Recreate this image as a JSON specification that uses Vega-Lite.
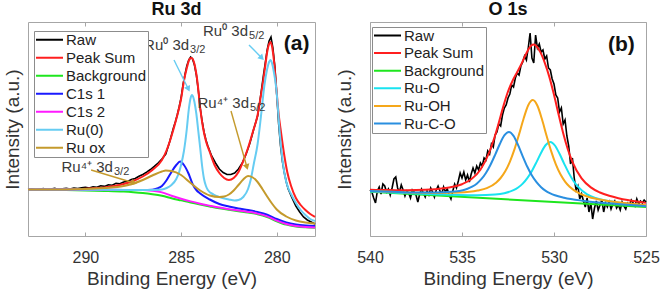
{
  "$schema": "https://vega.github.io/schema/vega-lite/v6.json",
  "background": "white",
  "padding": {"left": 2, "top": 0, "right": 2, "bottom": 0},
  "config": {
    "font": "Liberation Sans",
    "view": {"stroke": "#a6a6a6", "strokeWidth": 1},
    "axis": {"grid": false, "domain": false, "labelFontSize": 16, "labelColor": "#333333", "labelFlush": false, "titleFontSize": 19, "titleFontWeight": "normal", "titleColor": "#333333", "tickColor": "#a6a6a6"},
    "title": {"fontSize": 18, "fontWeight": "bold", "color": "#111111", "offset": 3, "anchor": "middle"},
    "legend": {"title": null, "orient": "none", "symbolType": "stroke", "symbolSize": 729, "symbolStrokeWidth": 2, "labelFontSize": 15, "labelColor": "#222222", "fillColor": "white", "strokeColor": "#8c8c8c", "padding": 1, "labelOffset": 2}
  },
  "datasets": {
    "ru": [
      {"s":"Raw","E":293,"I":46.5},{"s":"Raw","E":292.8,"I":47.3},{"s":"Raw","E":292.6,"I":46.2},{"s":"Raw","E":292.4,"I":46.8},{"s":"Raw","E":292.2,"I":47.4},{"s":"Raw","E":292,"I":46.4},{"s":"Raw","E":291.8,"I":46.9},{"s":"Raw","E":291.6,"I":47.6},{"s":"Raw","E":291.4,"I":46.5},{"s":"Raw","E":291.2,"I":47.1},{"s":"Raw","E":291,"I":47.6},{"s":"Raw","E":290.8,"I":46.9},{"s":"Raw","E":290.6,"I":48},{"s":"Raw","E":290.4,"I":47.4},{"s":"Raw","E":290.2,"I":48.2},{"s":"Raw","E":290,"I":48.6},{"s":"Raw","E":289.8,"I":48},{"s":"Raw","E":289.6,"I":49.2},{"s":"Raw","E":289.4,"I":48.7},{"s":"Raw","E":289.2,"I":50.2},{"s":"Raw","E":289,"I":49.6},{"s":"Raw","E":288.8,"I":51.2},{"s":"Raw","E":288.6,"I":50.8},{"s":"Raw","E":288.4,"I":52.6},{"s":"Raw","E":288.2,"I":52.2},{"s":"Raw","E":288,"I":54},{"s":"Raw","E":287.8,"I":54.6},{"s":"Raw","E":287.6,"I":56.4},{"s":"Raw","E":287.4,"I":57.6},{"s":"Raw","E":287.2,"I":59.8},{"s":"Raw","E":287,"I":61.5},{"s":"Raw","E":286.8,"I":63.8},{"s":"Raw","E":286.6,"I":66.5},{"s":"Raw","E":286.4,"I":69.6},{"s":"Raw","E":286.2,"I":73},{"s":"Raw","E":286,"I":77},{"s":"Raw","E":285.8,"I":82},{"s":"Raw","E":285.6,"I":94},{"s":"Raw","E":285.5,"I":101},{"s":"Raw","E":285.4,"I":108},{"s":"Raw","E":285.3,"I":114},{"s":"Raw","E":285.2,"I":121},{"s":"Raw","E":285.1,"I":129},{"s":"Raw","E":285,"I":138},{"s":"Raw","E":284.9,"I":151},{"s":"Raw","E":284.8,"I":161},{"s":"Raw","E":284.7,"I":170},{"s":"Raw","E":284.6,"I":176},{"s":"Raw","E":284.5,"I":179},{"s":"Raw","E":284.4,"I":177},{"s":"Raw","E":284.3,"I":171},{"s":"Raw","E":284.2,"I":161},{"s":"Raw","E":284.1,"I":146},{"s":"Raw","E":284,"I":128},{"s":"Raw","E":283.9,"I":115},{"s":"Raw","E":283.8,"I":104},{"s":"Raw","E":283.7,"I":96},{"s":"Raw","E":283.6,"I":90},{"s":"Raw","E":283.5,"I":85},{"s":"Raw","E":283.4,"I":80},{"s":"Raw","E":283.2,"I":73},{"s":"Raw","E":283,"I":67},{"s":"Raw","E":282.8,"I":63.5},{"s":"Raw","E":282.6,"I":61.5},{"s":"Raw","E":282.4,"I":61.5},{"s":"Raw","E":282.2,"I":63},{"s":"Raw","E":282,"I":67},{"s":"Raw","E":281.8,"I":73},{"s":"Raw","E":281.6,"I":82},{"s":"Raw","E":281.4,"I":93},{"s":"Raw","E":281.2,"I":107},{"s":"Raw","E":281,"I":120},{"s":"Raw","E":280.9,"I":132},{"s":"Raw","E":280.8,"I":146},{"s":"Raw","E":280.7,"I":160},{"s":"Raw","E":280.6,"I":173},{"s":"Raw","E":280.5,"I":186},{"s":"Raw","E":280.4,"I":195},{"s":"Raw","E":280.3,"I":199},{"s":"Raw","E":280.2,"I":188},{"s":"Raw","E":280.1,"I":170},{"s":"Raw","E":280,"I":142},{"s":"Raw","E":279.9,"I":112},{"s":"Raw","E":279.8,"I":90},{"s":"Raw","E":279.7,"I":74},{"s":"Raw","E":279.6,"I":63},{"s":"Raw","E":279.5,"I":54},{"s":"Raw","E":279.4,"I":47},{"s":"Raw","E":279.2,"I":38},{"s":"Raw","E":279,"I":30},{"s":"Raw","E":278.8,"I":24},{"s":"Raw","E":278.6,"I":19},{"s":"Raw","E":278.4,"I":16},{"s":"Raw","E":278.2,"I":14},{"s":"Raw","E":278,"I":12},

      {"s":"Peak Sum","E":293,"I":46.5},{"s":"Peak Sum","E":292,"I":46.5},{"s":"Peak Sum","E":291,"I":46.7},{"s":"Peak Sum","E":290,"I":47.2},{"s":"Peak Sum","E":289.5,"I":47.8},{"s":"Peak Sum","E":289,"I":48.6},{"s":"Peak Sum","E":288.5,"I":50},{"s":"Peak Sum","E":288,"I":52},{"s":"Peak Sum","E":287.5,"I":55},{"s":"Peak Sum","E":287,"I":59.5},{"s":"Peak Sum","E":286.5,"I":66},{"s":"Peak Sum","E":286,"I":76},{"s":"Peak Sum","E":285.75,"I":86},{"s":"Peak Sum","E":285.5,"I":100},{"s":"Peak Sum","E":285.25,"I":117},{"s":"Peak Sum","E":285,"I":137},{"s":"Peak Sum","E":284.85,"I":155},{"s":"Peak Sum","E":284.7,"I":168},{"s":"Peak Sum","E":284.55,"I":177},{"s":"Peak Sum","E":284.45,"I":178},{"s":"Peak Sum","E":284.3,"I":172},{"s":"Peak Sum","E":284.15,"I":155},{"s":"Peak Sum","E":284,"I":128},{"s":"Peak Sum","E":283.85,"I":108},{"s":"Peak Sum","E":283.7,"I":95},{"s":"Peak Sum","E":283.5,"I":84},{"s":"Peak Sum","E":283.25,"I":71},{"s":"Peak Sum","E":283,"I":63},{"s":"Peak Sum","E":282.75,"I":58},{"s":"Peak Sum","E":282.5,"I":56},{"s":"Peak Sum","E":282.25,"I":58},{"s":"Peak Sum","E":282,"I":64},{"s":"Peak Sum","E":281.75,"I":75},{"s":"Peak Sum","E":281.5,"I":88},{"s":"Peak Sum","E":281.25,"I":104},{"s":"Peak Sum","E":281,"I":121},{"s":"Peak Sum","E":280.85,"I":138},{"s":"Peak Sum","E":280.73,"I":152},{"s":"Peak Sum","E":280.6,"I":170},{"s":"Peak Sum","E":280.5,"I":184},{"s":"Peak Sum","E":280.4,"I":192},{"s":"Peak Sum","E":280.33,"I":194},{"s":"Peak Sum","E":280.25,"I":190},{"s":"Peak Sum","E":280.15,"I":176},{"s":"Peak Sum","E":280.03,"I":150},{"s":"Peak Sum","E":279.9,"I":122},{"s":"Peak Sum","E":279.8,"I":107},{"s":"Peak Sum","E":279.6,"I":80},{"s":"Peak Sum","E":279.45,"I":64},{"s":"Peak Sum","E":279.25,"I":50},{"s":"Peak Sum","E":279,"I":38},{"s":"Peak Sum","E":278.75,"I":31},{"s":"Peak Sum","E":278.5,"I":26},{"s":"Peak Sum","E":278.25,"I":22},{"s":"Peak Sum","E":278,"I":19},

      {"s":"Background","E":293,"I":46.3},{"s":"Background","E":291,"I":46},{"s":"Background","E":290,"I":45.6},{"s":"Background","E":289,"I":45.1},{"s":"Background","E":288,"I":44.4},{"s":"Background","E":287.5,"I":43.8},{"s":"Background","E":287,"I":43},{"s":"Background","E":286.5,"I":41.8},{"s":"Background","E":286,"I":40.2},{"s":"Background","E":285.5,"I":37.8},{"s":"Background","E":285,"I":35.6},{"s":"Background","E":284.5,"I":33.4},{"s":"Background","E":284,"I":31.4},{"s":"Background","E":283.5,"I":29.5},{"s":"Background","E":283,"I":27.7},{"s":"Background","E":282.5,"I":26.2},{"s":"Background","E":282,"I":24.8},{"s":"Background","E":281.5,"I":23.5},{"s":"Background","E":281,"I":21.8},{"s":"Background","E":280.5,"I":19},{"s":"Background","E":280,"I":14.8},{"s":"Background","E":279.5,"I":11.4},{"s":"Background","E":279,"I":9.6},{"s":"Background","E":278.5,"I":8.7},{"s":"Background","E":278,"I":8.2},

      {"s":"C1s 1","E":293,"I":46.5},{"s":"C1s 1","E":290,"I":46.3},{"s":"C1s 1","E":288,"I":46.1},{"s":"C1s 1","E":287,"I":46},{"s":"C1s 1","E":286.5,"I":46.3},{"s":"C1s 1","E":286.25,"I":47.5},{"s":"C1s 1","E":286,"I":50},{"s":"C1s 1","E":285.75,"I":56},{"s":"C1s 1","E":285.5,"I":64},{"s":"C1s 1","E":285.25,"I":71},{"s":"C1s 1","E":285.05,"I":74.5},{"s":"C1s 1","E":284.85,"I":71},{"s":"C1s 1","E":284.6,"I":62},{"s":"C1s 1","E":284.4,"I":52},{"s":"C1s 1","E":284.2,"I":46},{"s":"C1s 1","E":284,"I":42.5},{"s":"C1s 1","E":283.5,"I":36.5},{"s":"C1s 1","E":283,"I":32},{"s":"C1s 1","E":282.5,"I":29.5},{"s":"C1s 1","E":282,"I":27.5},{"s":"C1s 1","E":281.5,"I":26},{"s":"C1s 1","E":281,"I":24},{"s":"C1s 1","E":280.5,"I":21.3},{"s":"C1s 1","E":280,"I":17},{"s":"C1s 1","E":279.5,"I":13.5},{"s":"C1s 1","E":279,"I":11.5},{"s":"C1s 1","E":278.5,"I":10.5},{"s":"C1s 1","E":278,"I":10},

      {"s":"C1s 2","E":293,"I":46.5},{"s":"C1s 2","E":291,"I":46.4},{"s":"C1s 2","E":289,"I":46.2},{"s":"C1s 2","E":288,"I":46.1},{"s":"C1s 2","E":287,"I":46},{"s":"C1s 2","E":286.5,"I":45.2},{"s":"C1s 2","E":286,"I":43.6},{"s":"C1s 2","E":285.5,"I":40.3},{"s":"C1s 2","E":285,"I":37.3},{"s":"C1s 2","E":284.5,"I":34.6},{"s":"C1s 2","E":284,"I":32.3},{"s":"C1s 2","E":283.5,"I":30.3},{"s":"C1s 2","E":283,"I":28.4},{"s":"C1s 2","E":282.5,"I":26.8},{"s":"C1s 2","E":282,"I":25.4},{"s":"C1s 2","E":281.5,"I":24.1},{"s":"C1s 2","E":281,"I":22.4},{"s":"C1s 2","E":280.5,"I":19.6},{"s":"C1s 2","E":280,"I":15.4},{"s":"C1s 2","E":279.5,"I":12},{"s":"C1s 2","E":279,"I":10.1},{"s":"C1s 2","E":278.5,"I":9.1},{"s":"C1s 2","E":278,"I":8.6},

      {"s":"Ru(0)","E":293,"I":46.5},{"s":"Ru(0)","E":291,"I":46.4},{"s":"Ru(0)","E":289,"I":46.2},{"s":"Ru(0)","E":287,"I":46},{"s":"Ru(0)","E":286.5,"I":46},{"s":"Ru(0)","E":286,"I":46.5},{"s":"Ru(0)","E":285.75,"I":48},{"s":"Ru(0)","E":285.5,"I":51},{"s":"Ru(0)","E":285.25,"I":57},{"s":"Ru(0)","E":285.1,"I":64},{"s":"Ru(0)","E":285,"I":71},{"s":"Ru(0)","E":284.85,"I":85},{"s":"Ru(0)","E":284.7,"I":107},{"s":"Ru(0)","E":284.6,"I":126},{"s":"Ru(0)","E":284.5,"I":138},{"s":"Ru(0)","E":284.43,"I":141},{"s":"Ru(0)","E":284.35,"I":138},{"s":"Ru(0)","E":284.3,"I":134},{"s":"Ru(0)","E":284.2,"I":122},{"s":"Ru(0)","E":284.1,"I":105},{"s":"Ru(0)","E":284,"I":88},{"s":"Ru(0)","E":283.9,"I":70},{"s":"Ru(0)","E":283.8,"I":57},{"s":"Ru(0)","E":283.7,"I":50},{"s":"Ru(0)","E":283.6,"I":46},{"s":"Ru(0)","E":283.3,"I":41.5},{"s":"Ru(0)","E":283,"I":39},{"s":"Ru(0)","E":282.5,"I":36.5},{"s":"Ru(0)","E":282.2,"I":35.5},{"s":"Ru(0)","E":282,"I":36},{"s":"Ru(0)","E":281.75,"I":39},{"s":"Ru(0)","E":281.5,"I":47},{"s":"Ru(0)","E":281.35,"I":57},{"s":"Ru(0)","E":281.2,"I":72},{"s":"Ru(0)","E":281,"I":92},{"s":"Ru(0)","E":280.9,"I":107},{"s":"Ru(0)","E":280.8,"I":124},{"s":"Ru(0)","E":280.65,"I":150},{"s":"Ru(0)","E":280.5,"I":167},{"s":"Ru(0)","E":280.4,"I":174},{"s":"Ru(0)","E":280.33,"I":176},{"s":"Ru(0)","E":280.25,"I":173},{"s":"Ru(0)","E":280.15,"I":164},{"s":"Ru(0)","E":280.04,"I":150},{"s":"Ru(0)","E":279.95,"I":131},{"s":"Ru(0)","E":279.86,"I":107},{"s":"Ru(0)","E":279.7,"I":76},{"s":"Ru(0)","E":279.55,"I":58},{"s":"Ru(0)","E":279.4,"I":48},{"s":"Ru(0)","E":279.2,"I":40},{"s":"Ru(0)","E":279,"I":33},{"s":"Ru(0)","E":278.75,"I":26},{"s":"Ru(0)","E":278.5,"I":21},{"s":"Ru(0)","E":278.25,"I":17},{"s":"Ru(0)","E":278,"I":15},

      {"s":"Ru ox","E":293,"I":46.5},{"s":"Ru ox","E":291,"I":46.6},{"s":"Ru ox","E":290,"I":47},{"s":"Ru ox","E":289,"I":48},{"s":"Ru ox","E":288,"I":50},{"s":"Ru ox","E":287.5,"I":52.5},{"s":"Ru ox","E":287,"I":56},{"s":"Ru ox","E":286.5,"I":60.5},{"s":"Ru ox","E":286,"I":64.5},{"s":"Ru ox","E":285.8,"I":65.5},{"s":"Ru ox","E":285.5,"I":65},{"s":"Ru ox","E":285,"I":61},{"s":"Ru ox","E":284.5,"I":53},{"s":"Ru ox","E":284,"I":45.5},{"s":"Ru ox","E":283.5,"I":40.5},{"s":"Ru ox","E":283,"I":39},{"s":"Ru ox","E":282.75,"I":39.5},{"s":"Ru ox","E":282.5,"I":41.5},{"s":"Ru ox","E":282.25,"I":45.5},{"s":"Ru ox","E":282,"I":51},{"s":"Ru ox","E":281.75,"I":56.5},{"s":"Ru ox","E":281.5,"I":60},{"s":"Ru ox","E":281.25,"I":58.5},{"s":"Ru ox","E":281,"I":54},{"s":"Ru ox","E":280.75,"I":47},{"s":"Ru ox","E":280.5,"I":39.5},{"s":"Ru ox","E":280.25,"I":32.5},{"s":"Ru ox","E":280,"I":26.5},{"s":"Ru ox","E":279.5,"I":19.5},{"s":"Ru ox","E":279,"I":15.5},{"s":"Ru ox","E":278.5,"I":13.5},{"s":"Ru ox","E":278,"I":12.5}
    ],
    "o": [
      {"s":"Raw","E":540,"I":46},{"s":"Raw","E":539.9,"I":44},{"s":"Raw","E":539.8,"I":38},{"s":"Raw","E":539.7,"I":33},{"s":"Raw","E":539.6,"I":45},{"s":"Raw","E":539.5,"I":49},{"s":"Raw","E":539.4,"I":42},{"s":"Raw","E":539.3,"I":52},{"s":"Raw","E":539.2,"I":50},{"s":"Raw","E":539.1,"I":44},{"s":"Raw","E":539,"I":47},{"s":"Raw","E":538.9,"I":41},{"s":"Raw","E":538.8,"I":48},{"s":"Raw","E":538.7,"I":57},{"s":"Raw","E":538.6,"I":59},{"s":"Raw","E":538.5,"I":48},{"s":"Raw","E":538.4,"I":44},{"s":"Raw","E":538.3,"I":51},{"s":"Raw","E":538.2,"I":46},{"s":"Raw","E":538.1,"I":40},{"s":"Raw","E":538,"I":45},{"s":"Raw","E":537.9,"I":43},{"s":"Raw","E":537.8,"I":38},{"s":"Raw","E":537.7,"I":46},{"s":"Raw","E":537.6,"I":44},{"s":"Raw","E":537.5,"I":41},{"s":"Raw","E":537.4,"I":34},{"s":"Raw","E":537.3,"I":42},{"s":"Raw","E":537.2,"I":47},{"s":"Raw","E":537.1,"I":43},{"s":"Raw","E":537,"I":39},{"s":"Raw","E":536.9,"I":45},{"s":"Raw","E":536.8,"I":41},{"s":"Raw","E":536.7,"I":48},{"s":"Raw","E":536.6,"I":44},{"s":"Raw","E":536.5,"I":39},{"s":"Raw","E":536.4,"I":46},{"s":"Raw","E":536.3,"I":50},{"s":"Raw","E":536.2,"I":45},{"s":"Raw","E":536.1,"I":42},{"s":"Raw","E":536,"I":49},{"s":"Raw","E":535.9,"I":44},{"s":"Raw","E":535.8,"I":47},{"s":"Raw","E":535.7,"I":41},{"s":"Raw","E":535.6,"I":37},{"s":"Raw","E":535.5,"I":45},{"s":"Raw","E":535.4,"I":52},{"s":"Raw","E":535.3,"I":48},{"s":"Raw","E":535.2,"I":55},{"s":"Raw","E":535.1,"I":63},{"s":"Raw","E":535,"I":58},{"s":"Raw","E":534.9,"I":64},{"s":"Raw","E":534.8,"I":56},{"s":"Raw","E":534.7,"I":61},{"s":"Raw","E":534.6,"I":54},{"s":"Raw","E":534.5,"I":62},{"s":"Raw","E":534.4,"I":68},{"s":"Raw","E":534.3,"I":63},{"s":"Raw","E":534.2,"I":70},{"s":"Raw","E":534.1,"I":66},{"s":"Raw","E":534,"I":73},{"s":"Raw","E":533.9,"I":70},{"s":"Raw","E":533.8,"I":78},{"s":"Raw","E":533.7,"I":76},{"s":"Raw","E":533.6,"I":85},{"s":"Raw","E":533.5,"I":82},{"s":"Raw","E":533.4,"I":92},{"s":"Raw","E":533.3,"I":89},{"s":"Raw","E":533.2,"I":101},{"s":"Raw","E":533.1,"I":104},{"s":"Raw","E":533,"I":112},{"s":"Raw","E":532.9,"I":110},{"s":"Raw","E":532.8,"I":121},{"s":"Raw","E":532.7,"I":128},{"s":"Raw","E":532.6,"I":131},{"s":"Raw","E":532.5,"I":138},{"s":"Raw","E":532.4,"I":142},{"s":"Raw","E":532.3,"I":151},{"s":"Raw","E":532.2,"I":149},{"s":"Raw","E":532.1,"I":158},{"s":"Raw","E":532,"I":163},{"s":"Raw","E":531.9,"I":161},{"s":"Raw","E":531.8,"I":170},{"s":"Raw","E":531.7,"I":174},{"s":"Raw","E":531.6,"I":180},{"s":"Raw","E":531.5,"I":176},{"s":"Raw","E":531.4,"I":188},{"s":"Raw","E":531.3,"I":203},{"s":"Raw","E":531.2,"I":178},{"s":"Raw","E":531.1,"I":173},{"s":"Raw","E":531,"I":201},{"s":"Raw","E":530.9,"I":188},{"s":"Raw","E":530.8,"I":192},{"s":"Raw","E":530.7,"I":184},{"s":"Raw","E":530.6,"I":186},{"s":"Raw","E":530.5,"I":177},{"s":"Raw","E":530.4,"I":180},{"s":"Raw","E":530.3,"I":168},{"s":"Raw","E":530.2,"I":166},{"s":"Raw","E":530.1,"I":157},{"s":"Raw","E":530,"I":152},{"s":"Raw","E":529.9,"I":141},{"s":"Raw","E":529.8,"I":138},{"s":"Raw","E":529.7,"I":124},{"s":"Raw","E":529.6,"I":128},{"s":"Raw","E":529.5,"I":112},{"s":"Raw","E":529.4,"I":116},{"s":"Raw","E":529.3,"I":100},{"s":"Raw","E":529.2,"I":90},{"s":"Raw","E":529.1,"I":72},{"s":"Raw","E":529,"I":78},{"s":"Raw","E":528.9,"I":58},{"s":"Raw","E":528.8,"I":46},{"s":"Raw","E":528.7,"I":50},{"s":"Raw","E":528.6,"I":37},{"s":"Raw","E":528.5,"I":42},{"s":"Raw","E":528.4,"I":35},{"s":"Raw","E":528.3,"I":29},{"s":"Raw","E":528.2,"I":38},{"s":"Raw","E":528.1,"I":24},{"s":"Raw","E":528,"I":33},{"s":"Raw","E":527.9,"I":17},{"s":"Raw","E":527.8,"I":28},{"s":"Raw","E":527.7,"I":35},{"s":"Raw","E":527.6,"I":26},{"s":"Raw","E":527.5,"I":31},{"s":"Raw","E":527.4,"I":36},{"s":"Raw","E":527.3,"I":24},{"s":"Raw","E":527.2,"I":33},{"s":"Raw","E":527.1,"I":29},{"s":"Raw","E":527,"I":34},{"s":"Raw","E":526.9,"I":27},{"s":"Raw","E":526.8,"I":32},{"s":"Raw","E":526.7,"I":35},{"s":"Raw","E":526.6,"I":28},{"s":"Raw","E":526.5,"I":31},{"s":"Raw","E":526.4,"I":26},{"s":"Raw","E":526.3,"I":34},{"s":"Raw","E":526.2,"I":30},{"s":"Raw","E":526.1,"I":27},{"s":"Raw","E":526,"I":33},{"s":"Raw","E":525.9,"I":31},{"s":"Raw","E":525.8,"I":36},{"s":"Raw","E":525.7,"I":33},{"s":"Raw","E":525.6,"I":30},{"s":"Raw","E":525.5,"I":37},{"s":"Raw","E":525.4,"I":32},{"s":"Raw","E":525.3,"I":35},{"s":"Raw","E":525.2,"I":33},{"s":"Raw","E":525.1,"I":36},{"s":"Raw","E":525,"I":34},

      {"s":"Peak Sum","E":540,"I":46.3},{"s":"Peak Sum","E":539,"I":45.9},{"s":"Peak Sum","E":538,"I":45.8},{"s":"Peak Sum","E":537,"I":46.2},{"s":"Peak Sum","E":536,"I":47.7},{"s":"Peak Sum","E":535.5,"I":49.2},{"s":"Peak Sum","E":535,"I":51.8},{"s":"Peak Sum","E":534.5,"I":56.7},{"s":"Peak Sum","E":534,"I":66.3},{"s":"Peak Sum","E":533.5,"I":84.5},{"s":"Peak Sum","E":533.25,"I":97.7},{"s":"Peak Sum","E":533,"I":113.3},{"s":"Peak Sum","E":532.75,"I":129.9},{"s":"Peak Sum","E":532.5,"I":144.5},{"s":"Peak Sum","E":532.25,"I":155.3},{"s":"Peak Sum","E":532,"I":163.9},{"s":"Peak Sum","E":531.75,"I":172.9},{"s":"Peak Sum","E":531.5,"I":182.8},{"s":"Peak Sum","E":531.25,"I":190.2},{"s":"Peak Sum","E":531.1,"I":191.4},{"s":"Peak Sum","E":531,"I":190.6},{"s":"Peak Sum","E":530.75,"I":184.1},{"s":"Peak Sum","E":530.5,"I":173.1},{"s":"Peak Sum","E":530.25,"I":158.9},{"s":"Peak Sum","E":530,"I":141.2},{"s":"Peak Sum","E":529.75,"I":121.5},{"s":"Peak Sum","E":529.5,"I":102.8},{"s":"Peak Sum","E":529.25,"I":86.8},{"s":"Peak Sum","E":529,"I":74.2},{"s":"Peak Sum","E":528.5,"I":57.6},{"s":"Peak Sum","E":528,"I":48.6},{"s":"Peak Sum","E":527.5,"I":43.5},{"s":"Peak Sum","E":527,"I":40.2},{"s":"Peak Sum","E":526.5,"I":37.8},{"s":"Peak Sum","E":526,"I":35.9},{"s":"Peak Sum","E":525.5,"I":34.4},{"s":"Peak Sum","E":525,"I":33.1},

      {"s":"Background","E":540,"I":44.2},{"s":"Background","E":525,"I":29},

      {"s":"Ru-O","E":540,"I":44.6},{"s":"Ru-O","E":538.2,"I":43},{"s":"Ru-O","E":536.2,"I":41.5},{"s":"Ru-O","E":535.2,"I":41},{"s":"Ru-O","E":534.2,"I":40.8},{"s":"Ru-O","E":533.2,"I":41.5},{"s":"Ru-O","E":532.7,"I":42.8},{"s":"Ru-O","E":532.2,"I":45.8},{"s":"Ru-O","E":531.95,"I":48.5},{"s":"Ru-O","E":531.7,"I":52.4},{"s":"Ru-O","E":531.45,"I":57.9},{"s":"Ru-O","E":531.2,"I":65.1},{"s":"Ru-O","E":530.95,"I":73.9},{"s":"Ru-O","E":530.7,"I":83.3},{"s":"Ru-O","E":530.45,"I":91},{"s":"Ru-O","E":530.2,"I":94},{"s":"Ru-O","E":529.95,"I":90.5},{"s":"Ru-O","E":529.7,"I":82.2},{"s":"Ru-O","E":529.45,"I":72.4},{"s":"Ru-O","E":529.2,"I":63.1},{"s":"Ru-O","E":528.95,"I":55.3},{"s":"Ru-O","E":528.7,"I":49.4},{"s":"Ru-O","E":528.2,"I":41.7},{"s":"Ru-O","E":527.7,"I":37.7},{"s":"Ru-O","E":527.2,"I":35.4},{"s":"Ru-O","E":526.2,"I":32.7},{"s":"Ru-O","E":525.2,"I":30.8},{"s":"Ru-O","E":525,"I":30.5},

      {"s":"Ru-OH","E":540,"I":45.1},{"s":"Ru-OH","E":539.15,"I":44.4},{"s":"Ru-OH","E":538.15,"I":43.7},{"s":"Ru-OH","E":537.15,"I":43.2},{"s":"Ru-OH","E":536.15,"I":43},{"s":"Ru-OH","E":535.15,"I":43.4},{"s":"Ru-OH","E":534.15,"I":45.4},{"s":"Ru-OH","E":533.65,"I":47.8},{"s":"Ru-OH","E":533.15,"I":53.3},{"s":"Ru-OH","E":532.9,"I":58},{"s":"Ru-OH","E":532.65,"I":64.7},{"s":"Ru-OH","E":532.4,"I":74.2},{"s":"Ru-OH","E":532.15,"I":86.6},{"s":"Ru-OH","E":531.9,"I":101.6},{"s":"Ru-OH","E":531.65,"I":117.5},{"s":"Ru-OH","E":531.4,"I":130.8},{"s":"Ru-OH","E":531.15,"I":135.9},{"s":"Ru-OH","E":530.9,"I":130.2},{"s":"Ru-OH","E":530.65,"I":116.5},{"s":"Ru-OH","E":530.4,"I":100},{"s":"Ru-OH","E":530.15,"I":84.6},{"s":"Ru-OH","E":529.9,"I":71.6},{"s":"Ru-OH","E":529.65,"I":61.7},{"s":"Ru-OH","E":529.4,"I":54.4},{"s":"Ru-OH","E":529.15,"I":49.2},{"s":"Ru-OH","E":528.65,"I":42.8},{"s":"Ru-OH","E":528.15,"I":39.3},{"s":"Ru-OH","E":527.15,"I":35.3},{"s":"Ru-OH","E":526.15,"I":32.9},{"s":"Ru-OH","E":525.15,"I":31.1},{"s":"Ru-OH","E":525,"I":30.8},

      {"s":"Ru-C-O","E":540,"I":45},{"s":"Ru-C-O","E":538.45,"I":43.9},{"s":"Ru-C-O","E":537.45,"I":43.4},{"s":"Ru-C-O","E":536.45,"I":43.4},{"s":"Ru-C-O","E":535.45,"I":44.4},{"s":"Ru-C-O","E":534.95,"I":45.8},{"s":"Ru-C-O","E":534.7,"I":47.2},{"s":"Ru-C-O","E":534.45,"I":49.3},{"s":"Ru-C-O","E":534.2,"I":52.3},{"s":"Ru-C-O","E":533.95,"I":56.8},{"s":"Ru-C-O","E":533.7,"I":63},{"s":"Ru-C-O","E":533.45,"I":71.3},{"s":"Ru-C-O","E":533.2,"I":81.2},{"s":"Ru-C-O","E":532.95,"I":91.8},{"s":"Ru-C-O","E":532.7,"I":100.6},{"s":"Ru-C-O","E":532.45,"I":104},{"s":"Ru-C-O","E":532.2,"I":100.1},{"s":"Ru-C-O","E":531.95,"I":90.8},{"s":"Ru-C-O","E":531.7,"I":79.7},{"s":"Ru-C-O","E":531.45,"I":69.2},{"s":"Ru-C-O","E":531.2,"I":60.5},{"s":"Ru-C-O","E":530.95,"I":53.8},{"s":"Ru-C-O","E":530.7,"I":48.8},{"s":"Ru-C-O","E":530.45,"I":45.2},{"s":"Ru-C-O","E":530.2,"I":42.7},{"s":"Ru-C-O","E":529.95,"I":40.8},{"s":"Ru-C-O","E":529.45,"I":38.3},{"s":"Ru-C-O","E":528.45,"I":35.3},{"s":"Ru-C-O","E":527.45,"I":33.3},{"s":"Ru-C-O","E":526.45,"I":31.8},{"s":"Ru-C-O","E":525.45,"I":30.4},{"s":"Ru-C-O","E":525,"I":29.8}
    ],
    "ruNotes": [
      {"E":284.58,"I":191,"main":"Ru⁰ 3d","sub":"3/2"},
      {"E":281.5,"I":205,"main":"Ru⁰ 3d","sub":"5/2"},
      {"E":281.45,"I":133,"main":"Ru⁴⁺ 3d","sub":"5/2"},
      {"E":288.56,"I":69,"main":"Ru⁴⁺ 3d","sub":"3/2"}
    ],
    "ruArrows": [
      {"id":"a1","comp":"Ru(0)","E1":285.37,"I1":176,"E2":284.62,"I2":147},
      {"id":"a2","comp":"Ru(0)","E1":281.45,"I1":191,"E2":280.78,"I2":178},
      {"id":"a3","comp":"Ru ox","E1":282.39,"I1":125,"E2":281.56,"I2":69},
      {"id":"a4","comp":"Ru ox","E1":289.7,"I1":66,"E2":287.45,"I2":53}
    ]
  },
  "spacing": 14,
  "resolve": {"scale": {"x": "independent", "y": "independent", "color": "independent"}, "legend": {"color": "independent"}},
  "hconcat": [
    {
      "width": 287,
      "height": 214,
      "title": {"text": "Ru 3d", "dx": 5},
      "resolve": {"axis": {"x": "independent", "y": "independent"}},
      "layer": [
        {
          "data": {"name": "ru"},
          "transform": [{"filter": "datum.s === 'Raw'"}],
          "mark": {"type": "line", "strokeWidth": 1.6},
          "encoding": {
            "x": {"field": "E", "type": "quantitative", "scale": {"domain": [278, 293], "reverse": true, "nice": false, "zero": false},
                  "axis": {"orient": "bottom", "values": [290, 285, 280], "title": "Binding Energy (eV)", "tickSize": -4, "labelPadding": 17, "titlePadding": 4}},
            "y": {"field": "I", "type": "quantitative", "scale": {"domain": [0, 214], "nice": false, "zero": false},
                  "axis": {"orient": "left", "title": "Intensity (a.u.)", "labels": false, "ticks": false, "titlePadding": 6}},
            "color": {"field": "s", "type": "nominal",
                      "scale": {"domain": ["Raw", "Peak Sum", "Background", "C1s 1", "C1s 2", "Ru(0)", "Ru ox"],
                                "range": ["#000000", "#ff1f1f", "#1ee61e", "#1a1aff", "#ff1aff", "#66ccf2", "#c49a2c"]},
                      "legend": {"legendX": 6, "legendY": 9, "clipHeight": 15.3, "rowPadding": 2}}
          }
        },
        {
          "data": {"name": "ru"},
          "transform": [{"filter": "datum.s !== 'Raw'"}],
          "mark": {"type": "line", "strokeWidth": 2, "interpolate": "monotone"},
          "encoding": {
            "x": {"field": "E", "type": "quantitative", "axis": null},
            "y": {"field": "I", "type": "quantitative", "axis": null},
            "color": {"field": "s", "type": "nominal", "legend": null}
          }
        },
        {
          "data": {"name": "ruArrows"},
          "mark": {"type": "rule", "strokeWidth": 1.4},
          "encoding": {
            "x": {"field": "E1", "type": "quantitative", "axis": null},
            "y": {"field": "I1", "type": "quantitative", "axis": null},
            "x2": {"field": "E2"},
            "y2": {"field": "I2"},
            "color": {"field": "comp", "type": "nominal", "legend": null}
          }
        },
        {
          "data": {"name": "ruArrows"},
          "transform": [{"filter": "datum.id === 'a1'"}],
          "mark": {"type": "point", "shape": "triangle-up", "filled": true, "size": 45, "angle": 154, "opacity": 1},
          "encoding": {
            "x": {"field": "E2", "type": "quantitative", "axis": null},
            "y": {"field": "I2", "type": "quantitative", "axis": null},
            "color": {"field": "comp", "type": "nominal", "legend": null}
          }
        },
        {
          "data": {"name": "ruArrows"},
          "transform": [{"filter": "datum.id === 'a2'"}],
          "mark": {"type": "point", "shape": "triangle-up", "filled": true, "size": 45, "angle": 136, "opacity": 1},
          "encoding": {
            "x": {"field": "E2", "type": "quantitative", "axis": null},
            "y": {"field": "I2", "type": "quantitative", "axis": null},
            "color": {"field": "comp", "type": "nominal", "legend": null}
          }
        },
        {
          "data": {"name": "ruArrows"},
          "transform": [{"filter": "datum.id === 'a3'"}],
          "mark": {"type": "point", "shape": "triangle-up", "filled": true, "size": 45, "angle": 164, "opacity": 1},
          "encoding": {
            "x": {"field": "E2", "type": "quantitative", "axis": null},
            "y": {"field": "I2", "type": "quantitative", "axis": null},
            "color": {"field": "comp", "type": "nominal", "legend": null}
          }
        },
        {
          "data": {"name": "ruArrows"},
          "transform": [{"filter": "datum.id === 'a4'"}],
          "mark": {"type": "point", "shape": "triangle-up", "filled": true, "size": 45, "angle": 106, "opacity": 1},
          "encoding": {
            "x": {"field": "E2", "type": "quantitative", "axis": null},
            "y": {"field": "I2", "type": "quantitative", "axis": null},
            "color": {"field": "comp", "type": "nominal", "legend": null}
          }
        },
        {
          "data": {"name": "ruNotes"},
          "mark": {"type": "text", "align": "right", "baseline": "middle", "fontSize": 15, "color": "#3a3a3a"},
          "encoding": {
            "x": {"field": "E", "type": "quantitative", "axis": null},
            "y": {"field": "I", "type": "quantitative", "axis": null},
            "text": {"field": "main"}
          }
        },
        {
          "data": {"name": "ruNotes"},
          "mark": {"type": "text", "align": "left", "baseline": "middle", "fontSize": 11, "dx": 1, "dy": 5, "color": "#3a3a3a"},
          "encoding": {
            "x": {"field": "E", "type": "quantitative", "axis": null},
            "y": {"field": "I", "type": "quantitative", "axis": null},
            "text": {"field": "sub"}
          }
        },
        {
          "data": {"values": [{"E": 278.96, "I": 192, "t": "(a)"}]},
          "mark": {"type": "text", "align": "center", "baseline": "middle", "fontSize": 21, "fontWeight": "bold", "color": "#111111"},
          "encoding": {
            "x": {"field": "E", "type": "quantitative",
                  "axis": {"orient": "top", "values": [290, 285, 280], "labels": false, "title": null, "tickSize": -4}},
            "y": {"field": "I", "type": "quantitative", "axis": null},
            "text": {"field": "t"}
          }
        }
      ]
    },
    {
      "width": 276,
      "height": 214,
      "title": {"text": "O 1s"},
      "resolve": {"axis": {"x": "independent", "y": "independent"}},
      "layer": [
        {
          "data": {"name": "o"},
          "transform": [{"filter": "datum.s === 'Raw'"}],
          "mark": {"type": "line", "strokeWidth": 1.6},
          "encoding": {
            "x": {"field": "E", "type": "quantitative", "scale": {"domain": [525, 540], "reverse": true, "nice": false, "zero": false},
                  "axis": {"orient": "bottom", "values": [540, 535, 530, 525], "title": "Binding Energy (eV)", "tickSize": -4, "labelPadding": 17, "titlePadding": 4}},
            "y": {"field": "I", "type": "quantitative", "scale": {"domain": [0, 214], "nice": false, "zero": false},
                  "axis": {"orient": "left", "title": "Intensity (a.u.)", "labels": false, "ticks": false, "titlePadding": 16}},
            "color": {"field": "s", "type": "nominal",
                      "scale": {"domain": ["Raw", "Peak Sum", "Background", "Ru-O", "Ru-OH", "Ru-C-O"],
                                "range": ["#000000", "#ff1f1f", "#1ee61e", "#19e3f0", "#f5a71a", "#2a8fe0"]},
                      "legend": {"legendX": 2, "legendY": 5, "clipHeight": 15, "rowPadding": 1.6}}
          }
        },
        {
          "data": {"name": "o"},
          "transform": [{"filter": "datum.s !== 'Raw'"}],
          "mark": {"type": "line", "strokeWidth": 2, "interpolate": "monotone"},
          "encoding": {
            "x": {"field": "E", "type": "quantitative", "axis": null},
            "y": {"field": "I", "type": "quantitative", "axis": null},
            "color": {"field": "s", "type": "nominal", "legend": null}
          }
        },
        {
          "data": {"values": [{"E": 526.34, "I": 191, "t": "(b)"}]},
          "mark": {"type": "text", "align": "center", "baseline": "middle", "fontSize": 21, "fontWeight": "bold", "color": "#111111"},
          "encoding": {
            "x": {"field": "E", "type": "quantitative",
                  "axis": {"orient": "top", "values": [540, 535, 530, 525], "labels": false, "title": null, "tickSize": -4}},
            "y": {"field": "I", "type": "quantitative", "axis": null},
            "text": {"field": "t"}
          }
        }
      ]
    }
  ]
}
